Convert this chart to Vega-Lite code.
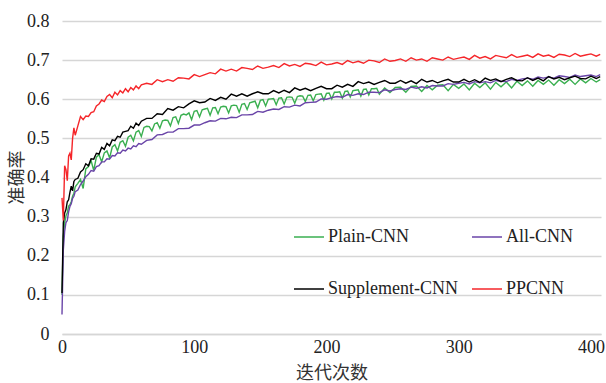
{
  "$schema": "https://vega.github.io/schema/vega-lite/v6.json",
  "autosize": "none",
  "width": 539,
  "height": 313,
  "padding": {"left": 62, "top": 21, "right": 5, "bottom": 49},
  "background": "white",
  "config": {
    "font": "'Liberation Serif', 'Times New Roman', 'DejaVu Serif', serif",
    "view": {"stroke": null},
    "axis": {"labelFont": "'Liberation Serif', 'Times New Roman', 'DejaVu Serif', serif", "labelFontSize": 18, "labelColor": "#222", "titleFont": "Noto Sans CJK SC", "titleFontWeight": "normal", "titleFontSize": 18, "titleColor": "#333", "ticks": false},
    "legend": {"labelFont": "'Liberation Serif', 'Times New Roman', 'DejaVu Serif', serif", "labelFontSize": 18, "labelColor": "#222"}
  },
  "encoding": {
    "x": {"field": "x", "type": "quantitative", "scale": {"domain": [0, 407.6], "nice": false},
      "axis": {"values": [0, 100, 200, 300, 400], "title": "迭代次数", "grid": false, "domainColor": "#d6d6d6", "domainWidth": 1.5, "labelPadding": 4, "labelFlush": false, "titleY": 39.5, "titleBaseline": "middle"}},
    "y": {"field": "y", "type": "quantitative", "scale": {"domain": [0, 0.8], "nice": false},
      "axis": {"values": [0, 0.1, 0.2, 0.3, 0.4, 0.5, 0.6, 0.7, 0.8], "format": ".1~f", "title": "准确率", "domain": false, "gridColor": "#d6d6d6", "gridWidth": 1.5, "labelPadding": 13, "titleX": -45, "titleY": 156, "titleAngle": 270, "titleAlign": "center", "titleBaseline": "middle"}},
    "color": {"type": "nominal", "scale": {"domain": ["Plain-CNN", "All-CNN", "Supplement-CNN", "PPCNN"], "range": ["#3aaf50", "#6a45a8", "#000000", "#f5262a"]},
      "legend": {"title": null, "orient": "none", "legendX": 231, "legendY": 200, "columns": 2, "direction": "horizontal", "symbolType": "stroke", "symbolSize": 900, "symbolStrokeWidth": 1.5, "labelOffset": 3, "rowPadding": 27, "columnPadding": 11, "padding": 0}}
  },
  "layer": [
    {
      "data": {"values": [
        {"x":0,"y":0.10},{"x":1,"y":0.25},{"x":2,"y":0.284},{"x":3,"y":0.302},{"x":4,"y":0.31},{"x":5,"y":0.327},{"x":6,"y":0.33},{"x":7,"y":0.338},{"x":8,"y":0.352},{"x":9,"y":0.36},{"x":10,"y":0.376},
        {"x":12,"y":0.385},{"x":14,"y":0.395},{"x":16,"y":0.372},{"x":18,"y":0.422},{"x":20,"y":0.428},{"x":22,"y":0.443},{"x":24,"y":0.418},{"x":26,"y":0.452},{"x":28,"y":0.458},{"x":30,"y":0.44},
        {"x":32,"y":0.463},{"x":34,"y":0.468},{"x":36,"y":0.45},{"x":38,"y":0.478},{"x":40,"y":0.484},{"x":42,"y":0.468},{"x":44,"y":0.49},{"x":46,"y":0.494},{"x":48,"y":0.48},{"x":50,"y":0.503},
        {"x":52,"y":0.508},{"x":54,"y":0.494},{"x":56,"y":0.516},{"x":58,"y":0.52},{"x":60,"y":0.505},{"x":62,"y":0.528},{"x":64,"y":0.531},{"x":66,"y":0.53},{"x":68,"y":0.519},{"x":70,"y":0.537},
        {"x":72,"y":0.54},{"x":74,"y":0.526},{"x":76,"y":0.545},{"x":78,"y":0.547},{"x":80,"y":0.546},{"x":82,"y":0.532},{"x":84,"y":0.553},{"x":86,"y":0.555},{"x":88,"y":0.538},{"x":90,"y":0.559},
        {"x":92,"y":0.562},{"x":94,"y":0.56},{"x":96,"y":0.565},{"x":98,"y":0.548},{"x":100,"y":0.569},{"x":102,"y":0.571},{"x":104,"y":0.555},{"x":106,"y":0.573},{"x":108,"y":0.575},{"x":110,"y":0.577},
        {"x":112,"y":0.559},{"x":114,"y":0.578},{"x":116,"y":0.579},{"x":118,"y":0.563},{"x":120,"y":0.58},{"x":122,"y":0.582},{"x":124,"y":0.581},{"x":126,"y":0.565},{"x":128,"y":0.583},{"x":130,"y":0.585},
        {"x":132,"y":0.584},{"x":134,"y":0.567},{"x":136,"y":0.587},{"x":138,"y":0.589},{"x":140,"y":0.574},{"x":142,"y":0.591},{"x":144,"y":0.593},{"x":146,"y":0.595},{"x":148,"y":0.578},{"x":150,"y":0.597},
        {"x":152,"y":0.599},{"x":154,"y":0.583},{"x":156,"y":0.6},{"x":158,"y":0.601},{"x":160,"y":0.602},{"x":162,"y":0.586},{"x":164,"y":0.603},{"x":166,"y":0.604},{"x":168,"y":0.588},{"x":170,"y":0.605},
        {"x":172,"y":0.606},{"x":174,"y":0.605},{"x":176,"y":0.59},{"x":178,"y":0.607},{"x":180,"y":0.609},{"x":182,"y":0.608},{"x":184,"y":0.594},{"x":186,"y":0.61},{"x":188,"y":0.611},{"x":190,"y":0.596},
        {"x":192,"y":0.612},{"x":194,"y":0.613},{"x":196,"y":0.614},{"x":198,"y":0.598},{"x":200,"y":0.615},{"x":202,"y":0.616},{"x":204,"y":0.601},{"x":206,"y":0.618},{"x":208,"y":0.618},{"x":210,"y":0.619},
        {"x":212,"y":0.603},{"x":214,"y":0.62},{"x":216,"y":0.621},{"x":218,"y":0.606},{"x":220,"y":0.622},{"x":222,"y":0.623},{"x":224,"y":0.624},{"x":226,"y":0.608},{"x":228,"y":0.625},{"x":230,"y":0.626},
        {"x":232,"y":0.611},{"x":234,"y":0.627},{"x":236,"y":0.627},{"x":238,"y":0.628},{"x":240,"y":0.613},{"x":244,"y":0.629},{"x":248,"y":0.617},{"x":252,"y":0.63},{"x":256,"y":0.631},{"x":260,"y":0.618},
        {"x":264,"y":0.633},{"x":268,"y":0.634},{"x":272,"y":0.62},{"x":276,"y":0.635},{"x":280,"y":0.624},{"x":284,"y":0.636},{"x":288,"y":0.637},{"x":292,"y":0.622},{"x":296,"y":0.638},{"x":300,"y":0.628},
        {"x":304,"y":0.639},{"x":308,"y":0.624},{"x":312,"y":0.641},{"x":316,"y":0.63},{"x":320,"y":0.642},{"x":324,"y":0.626},{"x":328,"y":0.643},{"x":332,"y":0.632},{"x":336,"y":0.644},{"x":340,"y":0.629},
        {"x":344,"y":0.646},{"x":348,"y":0.635},{"x":352,"y":0.647},{"x":356,"y":0.633},{"x":360,"y":0.648},{"x":364,"y":0.638},{"x":368,"y":0.649},{"x":372,"y":0.636},{"x":376,"y":0.65},{"x":380,"y":0.64},
        {"x":384,"y":0.651},{"x":388,"y":0.638},{"x":392,"y":0.652},{"x":396,"y":0.642},{"x":400,"y":0.653},{"x":404,"y":0.644},{"x":407,"y":0.65}
      ]},
      "mark": {"type": "line", "strokeWidth": 1.4},
      "encoding": {"color": {"datum": "Plain-CNN"}}
    },
    {
      "data": {"values": [
        {"x":0,"y":0.05},{"x":1,"y":0.215},{"x":2,"y":0.262},{"x":3,"y":0.285},{"x":4,"y":0.29},{"x":5,"y":0.312},{"x":6,"y":0.326},{"x":7,"y":0.333},{"x":8,"y":0.347},{"x":9,"y":0.352},{"x":10,"y":0.364},
        {"x":12,"y":0.368},{"x":14,"y":0.382},{"x":16,"y":0.391},{"x":18,"y":0.402},{"x":20,"y":0.408},{"x":22,"y":0.418},{"x":24,"y":0.416},{"x":26,"y":0.428},{"x":28,"y":0.43},{"x":30,"y":0.44},
        {"x":32,"y":0.44},{"x":34,"y":0.448},{"x":36,"y":0.447},{"x":38,"y":0.456},{"x":40,"y":0.455},{"x":42,"y":0.463},{"x":44,"y":0.462},{"x":46,"y":0.47},{"x":48,"y":0.468},{"x":50,"y":0.475},
        {"x":52,"y":0.473},{"x":54,"y":0.481},{"x":56,"y":0.479},{"x":58,"y":0.487},{"x":60,"y":0.485},{"x":64,"y":0.495},{"x":68,"y":0.497},{"x":72,"y":0.509},{"x":76,"y":0.51},{"x":80,"y":0.516},
        {"x":84,"y":0.516},{"x":88,"y":0.525},{"x":92,"y":0.525},{"x":96,"y":0.526},{"x":100,"y":0.534},{"x":104,"y":0.534},{"x":108,"y":0.54},{"x":112,"y":0.545},{"x":116,"y":0.544},{"x":120,"y":0.551},
        {"x":124,"y":0.55},{"x":128,"y":0.554},{"x":132,"y":0.553},{"x":136,"y":0.56},{"x":140,"y":0.56},{"x":144,"y":0.561},{"x":148,"y":0.569},{"x":152,"y":0.567},{"x":156,"y":0.572},{"x":160,"y":0.575},
        {"x":164,"y":0.574},{"x":168,"y":0.581},{"x":172,"y":0.58},{"x":176,"y":0.585},{"x":180,"y":0.583},{"x":184,"y":0.591},{"x":188,"y":0.592},{"x":192,"y":0.593},{"x":196,"y":0.601},{"x":200,"y":0.6},
        {"x":204,"y":0.604},{"x":208,"y":0.607},{"x":212,"y":0.605},{"x":216,"y":0.612},{"x":220,"y":0.61},{"x":224,"y":0.614},{"x":228,"y":0.612},{"x":232,"y":0.618},{"x":236,"y":0.618},{"x":240,"y":0.617},
        {"x":244,"y":0.624},{"x":248,"y":0.621},{"x":252,"y":0.625},{"x":256,"y":0.627},{"x":260,"y":0.625},{"x":264,"y":0.631},{"x":268,"y":0.628},{"x":272,"y":0.632},{"x":276,"y":0.629},{"x":280,"y":0.635},
        {"x":284,"y":0.634},{"x":288,"y":0.634},{"x":292,"y":0.64},{"x":296,"y":0.638},{"x":300,"y":0.641},{"x":304,"y":0.643},{"x":308,"y":0.639},{"x":312,"y":0.645},{"x":316,"y":0.642},{"x":320,"y":0.645},
        {"x":324,"y":0.642},{"x":328,"y":0.648},{"x":332,"y":0.646},{"x":336,"y":0.645},{"x":340,"y":0.651},{"x":344,"y":0.648},{"x":348,"y":0.652},{"x":352,"y":0.654},{"x":356,"y":0.651},{"x":360,"y":0.657},
        {"x":364,"y":0.654},{"x":368,"y":0.657},{"x":372,"y":0.654},{"x":376,"y":0.66},{"x":380,"y":0.658},{"x":384,"y":0.656},{"x":388,"y":0.662},{"x":392,"y":0.658},{"x":396,"y":0.66},{"x":400,"y":0.662},
        {"x":404,"y":0.658},{"x":407,"y":0.663}
      ]},
      "mark": {"type": "line", "strokeWidth": 1.4},
      "encoding": {"color": {"datum": "All-CNN"}}
    },
    {
      "data": {"values": [
        {"x":0,"y":0.105},{"x":1,"y":0.284},{"x":2,"y":0.309},{"x":3,"y":0.318},{"x":4,"y":0.338},{"x":5,"y":0.343},{"x":6,"y":0.362},{"x":7,"y":0.378},{"x":8,"y":0.366},{"x":9,"y":0.39},{"x":10,"y":0.395},
        {"x":12,"y":0.398},{"x":14,"y":0.414},{"x":16,"y":0.42},{"x":18,"y":0.435},{"x":20,"y":0.43},{"x":22,"y":0.448},{"x":24,"y":0.447},{"x":26,"y":0.462},{"x":28,"y":0.46},{"x":30,"y":0.477},
        {"x":32,"y":0.472},{"x":34,"y":0.487},{"x":36,"y":0.481},{"x":38,"y":0.496},{"x":40,"y":0.494},{"x":42,"y":0.505},{"x":44,"y":0.503},{"x":46,"y":0.516},{"x":48,"y":0.518},{"x":50,"y":0.52},
        {"x":52,"y":0.531},{"x":54,"y":0.526},{"x":56,"y":0.539},{"x":58,"y":0.533},{"x":60,"y":0.544},{"x":64,"y":0.551},{"x":68,"y":0.551},{"x":72,"y":0.563},{"x":76,"y":0.561},{"x":80,"y":0.576},
        {"x":84,"y":0.572},{"x":88,"y":0.581},{"x":92,"y":0.578},{"x":96,"y":0.588},{"x":100,"y":0.596},{"x":104,"y":0.591},{"x":108,"y":0.593},{"x":112,"y":0.602},{"x":116,"y":0.597},{"x":120,"y":0.605},
        {"x":124,"y":0.6},{"x":128,"y":0.613},{"x":132,"y":0.608},{"x":136,"y":0.614},{"x":140,"y":0.608},{"x":144,"y":0.614},{"x":148,"y":0.619},{"x":152,"y":0.614},{"x":156,"y":0.614},{"x":160,"y":0.622},
        {"x":164,"y":0.616},{"x":168,"y":0.623},{"x":172,"y":0.617},{"x":176,"y":0.629},{"x":180,"y":0.623},{"x":184,"y":0.628},{"x":188,"y":0.622},{"x":192,"y":0.628},{"x":196,"y":0.633},{"x":200,"y":0.627},
        {"x":204,"y":0.627},{"x":208,"y":0.636},{"x":212,"y":0.631},{"x":216,"y":0.638},{"x":220,"y":0.633},{"x":224,"y":0.645},{"x":228,"y":0.64},{"x":232,"y":0.644},{"x":236,"y":0.638},{"x":240,"y":0.643},
        {"x":244,"y":0.648},{"x":248,"y":0.641},{"x":252,"y":0.641},{"x":256,"y":0.648},{"x":260,"y":0.641},{"x":264,"y":0.647},{"x":268,"y":0.64},{"x":272,"y":0.651},{"x":276,"y":0.644},{"x":280,"y":0.648},
        {"x":284,"y":0.642},{"x":288,"y":0.647},{"x":292,"y":0.651},{"x":296,"y":0.644},{"x":300,"y":0.644},{"x":304,"y":0.651},{"x":308,"y":0.644},{"x":312,"y":0.65},{"x":316,"y":0.643},{"x":320,"y":0.654},
        {"x":324,"y":0.648},{"x":328,"y":0.652},{"x":332,"y":0.645},{"x":336,"y":0.651},{"x":340,"y":0.655},{"x":344,"y":0.648},{"x":348,"y":0.647},{"x":352,"y":0.655},{"x":356,"y":0.648},{"x":360,"y":0.654},
        {"x":364,"y":0.647},{"x":368,"y":0.658},{"x":372,"y":0.652},{"x":376,"y":0.656},{"x":380,"y":0.65},{"x":384,"y":0.655},{"x":388,"y":0.659},{"x":392,"y":0.653},{"x":396,"y":0.652},{"x":400,"y":0.659},
        {"x":404,"y":0.653},{"x":407,"y":0.658}
      ]},
      "mark": {"type": "line", "strokeWidth": 1.4},
      "encoding": {"color": {"datum": "Supplement-CNN"}}
    },
    {
      "data": {"values": [
        {"x":0,"y":0.348},{"x":1,"y":0.29},{"x":2,"y":0.43},{"x":3,"y":0.42},{"x":4,"y":0.392},{"x":5,"y":0.455},{"x":6,"y":0.462},{"x":7,"y":0.445},{"x":8,"y":0.5},{"x":9,"y":0.527},{"x":10,"y":0.508},
        {"x":12,"y":0.532},{"x":14,"y":0.556},{"x":16,"y":0.548},{"x":18,"y":0.557},{"x":20,"y":0.556},{"x":22,"y":0.566},{"x":24,"y":0.568},{"x":26,"y":0.583},{"x":28,"y":0.588},{"x":30,"y":0.598},
        {"x":32,"y":0.594},{"x":34,"y":0.607},{"x":36,"y":0.612},{"x":38,"y":0.604},{"x":40,"y":0.618},{"x":42,"y":0.611},{"x":44,"y":0.622},{"x":46,"y":0.616},{"x":48,"y":0.627},{"x":50,"y":0.619},
        {"x":52,"y":0.63},{"x":54,"y":0.624},{"x":56,"y":0.634},{"x":58,"y":0.627},{"x":60,"y":0.637},{"x":64,"y":0.641},{"x":68,"y":0.638},{"x":72,"y":0.65},{"x":76,"y":0.645},{"x":80,"y":0.65},
        {"x":84,"y":0.646},{"x":88,"y":0.655},{"x":92,"y":0.654},{"x":96,"y":0.652},{"x":100,"y":0.663},{"x":104,"y":0.658},{"x":108,"y":0.663},{"x":112,"y":0.668},{"x":116,"y":0.665},{"x":120,"y":0.677},
        {"x":124,"y":0.672},{"x":128,"y":0.677},{"x":132,"y":0.672},{"x":136,"y":0.681},{"x":140,"y":0.679},{"x":144,"y":0.676},{"x":148,"y":0.685},{"x":152,"y":0.679},{"x":156,"y":0.682},{"x":160,"y":0.686},
        {"x":164,"y":0.681},{"x":168,"y":0.691},{"x":172,"y":0.685},{"x":176,"y":0.689},{"x":180,"y":0.684},{"x":184,"y":0.692},{"x":188,"y":0.69},{"x":192,"y":0.686},{"x":196,"y":0.695},{"x":200,"y":0.688},
        {"x":204,"y":0.69},{"x":208,"y":0.694},{"x":212,"y":0.689},{"x":216,"y":0.699},{"x":220,"y":0.693},{"x":224,"y":0.697},{"x":228,"y":0.692},{"x":232,"y":0.7},{"x":236,"y":0.698},{"x":240,"y":0.694},
        {"x":244,"y":0.703},{"x":248,"y":0.697},{"x":252,"y":0.699},{"x":256,"y":0.703},{"x":260,"y":0.697},{"x":264,"y":0.706},{"x":268,"y":0.7},{"x":272,"y":0.703},{"x":276,"y":0.697},{"x":280,"y":0.706},
        {"x":284,"y":0.703},{"x":288,"y":0.7},{"x":292,"y":0.708},{"x":296,"y":0.702},{"x":300,"y":0.705},{"x":304,"y":0.708},{"x":308,"y":0.702},{"x":312,"y":0.712},{"x":316,"y":0.705},{"x":320,"y":0.709},
        {"x":324,"y":0.703},{"x":328,"y":0.712},{"x":332,"y":0.709},{"x":336,"y":0.706},{"x":340,"y":0.714},{"x":344,"y":0.707},{"x":348,"y":0.71},{"x":352,"y":0.713},{"x":356,"y":0.707},{"x":360,"y":0.716},
        {"x":364,"y":0.71},{"x":368,"y":0.713},{"x":372,"y":0.707},{"x":376,"y":0.715},{"x":380,"y":0.713},{"x":384,"y":0.709},{"x":388,"y":0.717},{"x":392,"y":0.71},{"x":396,"y":0.713},{"x":400,"y":0.716},
        {"x":404,"y":0.71},{"x":407,"y":0.715}
      ]},
      "mark": {"type": "line", "strokeWidth": 1.4},
      "encoding": {"color": {"datum": "PPCNN"}}
    }
  ]
}
